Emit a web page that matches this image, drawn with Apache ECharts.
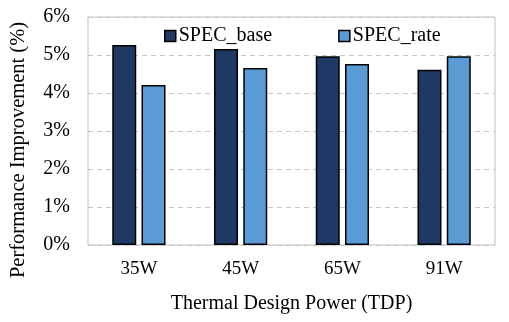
<!DOCTYPE html>
<html><head><meta charset="utf-8">
<script src="https://cdn.jsdelivr.net/npm/echarts@6/dist/echarts.min.js"></script>
<style>html,body{margin:0;padding:0;background:#fff}#c{width:509px;height:322px}</style>
</head><body><div id="c"></div>
<script>
const categories = ['35W', '45W', '65W', '91W'];
const specBase = [5.26, 5.16, 4.97, 4.61];
const specRate = [4.21, 4.66, 4.76, 4.97];
const yTicks = [0, 1, 2, 3, 4, 5, 6];

const chart = echarts.init(document.getElementById('c'));
const font = '"Liberation Serif", "Times New Roman", serif';
chart.setOption({
  animation: false,
  textStyle: { fontFamily: font },
  grid: { left: 88, right: 14, top: 17, bottom: 77, show: true, borderColor: '#bfbfbf', borderWidth: 1,
    outerBoundsMode: 'none', containLabel: false },
  legend: {
    top: 21, left: 159, itemGap: 66, itemWidth: 11, itemHeight: 11, icon: 'rect',
    textStyle: { fontFamily: font, fontSize: 20, color: '#000', padding: [0, 0, 0, -2] },
    data: [
      { name: 'SPEC_base', itemStyle: { borderColor: '#000', borderWidth: 1.5 } },
      { name: 'SPEC_rate', itemStyle: { borderColor: '#000', borderWidth: 1.5 } }
    ]
  },
  xAxis: {
    type: 'category', data: categories,
    axisLine: { show: false }, axisTick: { show: false },
    axisLabel: { fontFamily: font, fontSize: 19, color: '#000', margin: 15 },
    name: 'Thermal Design Power (TDP)', nameLocation: 'middle', nameGap: 49,
    nameTextStyle: { fontFamily: font, fontSize: 20, color: '#000' }
  },
  yAxis: {
    type: 'value', min: 0, max: 6, interval: 1,
    axisLine: { show: false }, axisTick: { show: false },
    axisLabel: { fontFamily: font, fontSize: 20, color: '#000', margin: 18,
      formatter: v => yTicks.includes(v) ? v + '%' : '' },
    splitLine: { lineStyle: { color: '#c8c8c8', type: [5, 4], width: 1 } },
    name: 'Performance Improvement (%)', nameLocation: 'middle', nameGap: 59,
    nameTextStyle: { fontFamily: font, fontSize: 20.5, color: '#000', padding: [0, 38, 0, 0] }
  },
  series: [
    { name: 'SPEC_base', type: 'bar', data: specBase, barWidth: 24, barGap: '22%',
      itemStyle: { color: '#1f3864', borderColor: '#000', borderWidth: 1.5 } },
    { name: 'SPEC_rate', type: 'bar', data: specRate, barWidth: 24,
      itemStyle: { color: '#5b9bd5', borderColor: '#000', borderWidth: 1.5 } }
  ]
});
</script></body></html>
